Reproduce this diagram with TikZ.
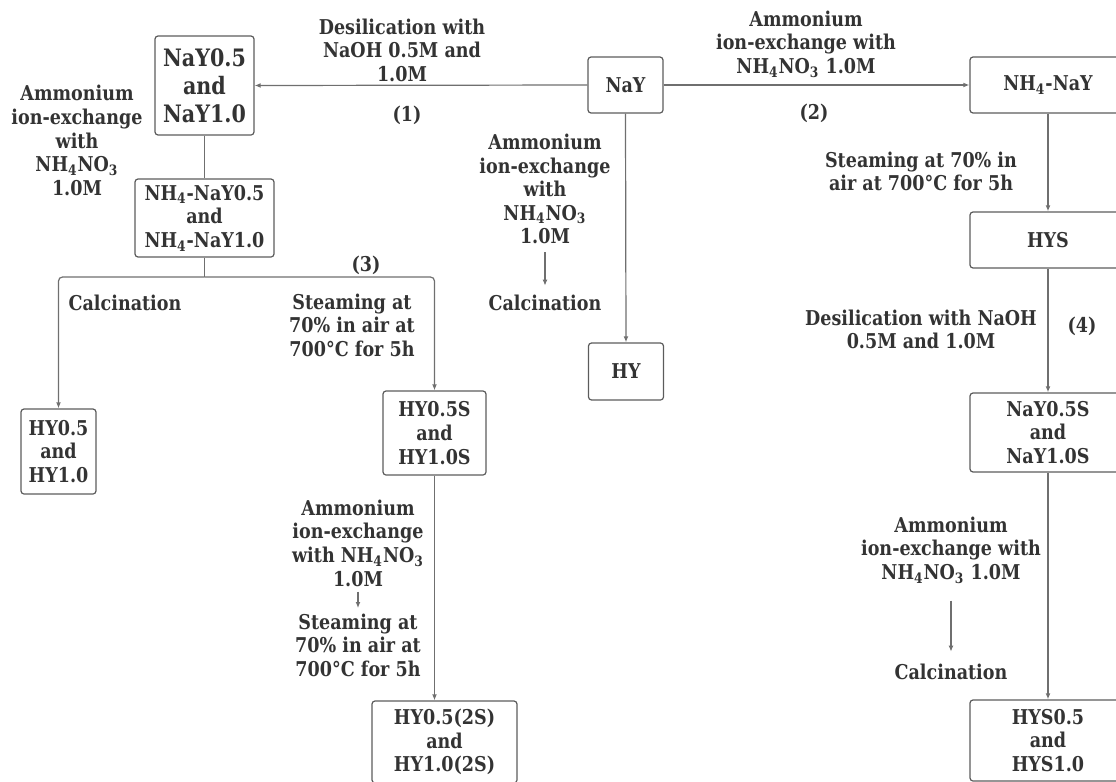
\documentclass[tikz,border=0pt]{standalone}
\usepackage{fontspec}
\setmainfont{DejaVu Serif}[FakeStretch=0.86]
\usepackage{tikz}
\usetikzlibrary{arrows.meta}
\definecolor{flowtext}{HTML}{333333}
\definecolor{flowline}{HTML}{6F6F6F}
\definecolor{flowbox}{HTML}{5C5C5C}
\newcommand{\nhfour}{NH\textsubscript{4}}
\newcommand{\nhno}{NH\textsubscript{4}NO\textsubscript{3}}

\begin{document}
\begin{tikzpicture}[
  x=0.5pt, y=-0.5pt,
  box/.style={draw=flowbox,line width=0.6pt,rounded corners=1.5pt,align=center,inner sep=0pt,text=flowtext,font=\bfseries\fontsize{10.2}{11.8}\selectfont},
  bigbox/.style={box,font=\bfseries\fontsize{12}{14}\selectfont},
  note/.style={align=center,inner sep=0pt,text=flowtext,font=\bfseries\fontsize{10.2}{11.8}\selectfont},
  arrow/.style={-{Latex[length=3pt,width=2.4pt]},line width=0.6pt,flowline},
  link/.style={line width=0.6pt,flowline}
]
  \clip (0,0) rectangle (1116,782);

  \node[bigbox,minimum width=49.5pt,minimum height=49.5pt] (nay05) at (204.5,85.5) {NaY0.5\\and\\NaY1.0};
  \node[box,minimum width=37.5pt,minimum height=28pt] (nay) at (625.5,85) {NaY};
  \node[box,minimum width=78pt,minimum height=28pt] (nh4nay) at (1048,85) {\nhfour-NaY};
  \node[box,minimum width=69.5pt,minimum height=39pt] (nh4nay05) at (204.5,218) {\nhfour-NaY0.5\\and\\\nhfour-NaY1.0};
  \node[box,minimum width=78pt,minimum height=28pt] (hys) at (1048,240) {HYS};
  \node[box,minimum width=37.5pt,minimum height=28.5pt] (hy) at (626,371.5) {HY};
  \node[box,minimum width=37.5pt,minimum height=42.5pt] (hy05) at (58.5,451.5) {HY0.5\\and\\HY1.0};
  \node[box,minimum width=51.5pt,minimum height=42pt] (hy05s) at (434.5,433) {HY0.5S\\and\\HY1.0S};
  \node[box,minimum width=78pt,minimum height=39.5pt] (nay05s) at (1048,432.5) {NaY0.5S\\and\\NaY1.0S};
  \node[box,minimum width=72.5pt,minimum height=41pt] (hy052s) at (444.5,742) {HY0.5(2S)\\and\\HY1.0(2S)};
  \node[box,minimum width=78pt,minimum height=40.5pt] (hys05) at (1048,740.5) {HYS0.5\\and\\HYS1.0};

  \node[note] (desil1) at (402,50) {Desilication with\\NaOH 0.5M and\\1.0M};
  \node[note] (route1) at (407,115) {(1)};
  \node[note] (amm2) at (806,44) {Ammonium\\ion-exchange with\\\nhno{} 1.0M};
  \node[note] (route2) at (814,113) {(2)};
  \node[note] (ammleft) at (77,140.5) {Ammonium\\ion-exchange\\with\\\nhno\\1.0M};
  \node[note] (ammmid) at (545,189) {Ammonium\\ion-exchange\\with\\\nhno\\1.0M};
  \node[note] (calcmid) at (545,303) {Calcination};
  \node[note] (route3) at (366,265) {(3)};
  \node[note] (calcleft) at (125,303) {Calcination};
  \node[note] (steam3) at (352,325) {Steaming at\\70\% in air at\\700°C for 5h};
  \node[note] (steamr) at (921,171.5) {Steaming at 70\% in\\air at 700°C for 5h};
  \node[note] (desilr) at (921,329.5) {Desilication with NaOH\\0.5M and 1.0M};
  \node[note] (route4) at (1082,326) {(4)};
  \node[note] (ammr) at (951,550) {Ammonium\\ion-exchange with\\\nhno{} 1.0M};
  \node[note] (calcr) at (951,672) {Calcination};
  \node[note] (ammlow) at (358,543) {Ammonium\\ion-exchange\\with \nhno\\1.0M};
  \node[note] (steamlow) at (358,645) {Steaming at\\70\% in air at\\700°C for 5h};

  \coordinate (split) at (204.5,277);

  \draw[arrow] (nay.west)--(nay05.east);
  \draw[arrow] (nay.east)--(nh4nay.west);
  \draw[arrow] (nay.south)--(hy.north);
  \draw[link] (nay05.south)--(nh4nay05.north);
  \draw[link] (nh4nay05.south)--(split);
  \draw[arrow,rounded corners=2pt] (split) -| (hy05.north);
  \draw[arrow,rounded corners=2pt] (split) -| (hy05s.north);
  \draw[arrow] (hy05s.south)--(hy05s.south |- hy052s.north);
  \draw[arrow] (nh4nay.south)--(hys.north);
  \draw[arrow] (hys.south)--(nay05s.north);
  \draw[arrow] (nay05s.south)--(hys05.north);
  \draw[arrow,shorten <=4pt,shorten >=4.5pt] (ammmid)--(calcmid);
  \draw[arrow,shorten <=8.5pt,shorten >=6pt] (ammr)--(calcr);
  \draw[arrow,shorten <=2.5pt,shorten >=2.5pt] (ammlow)--(steamlow);
\end{tikzpicture}
\end{document}
